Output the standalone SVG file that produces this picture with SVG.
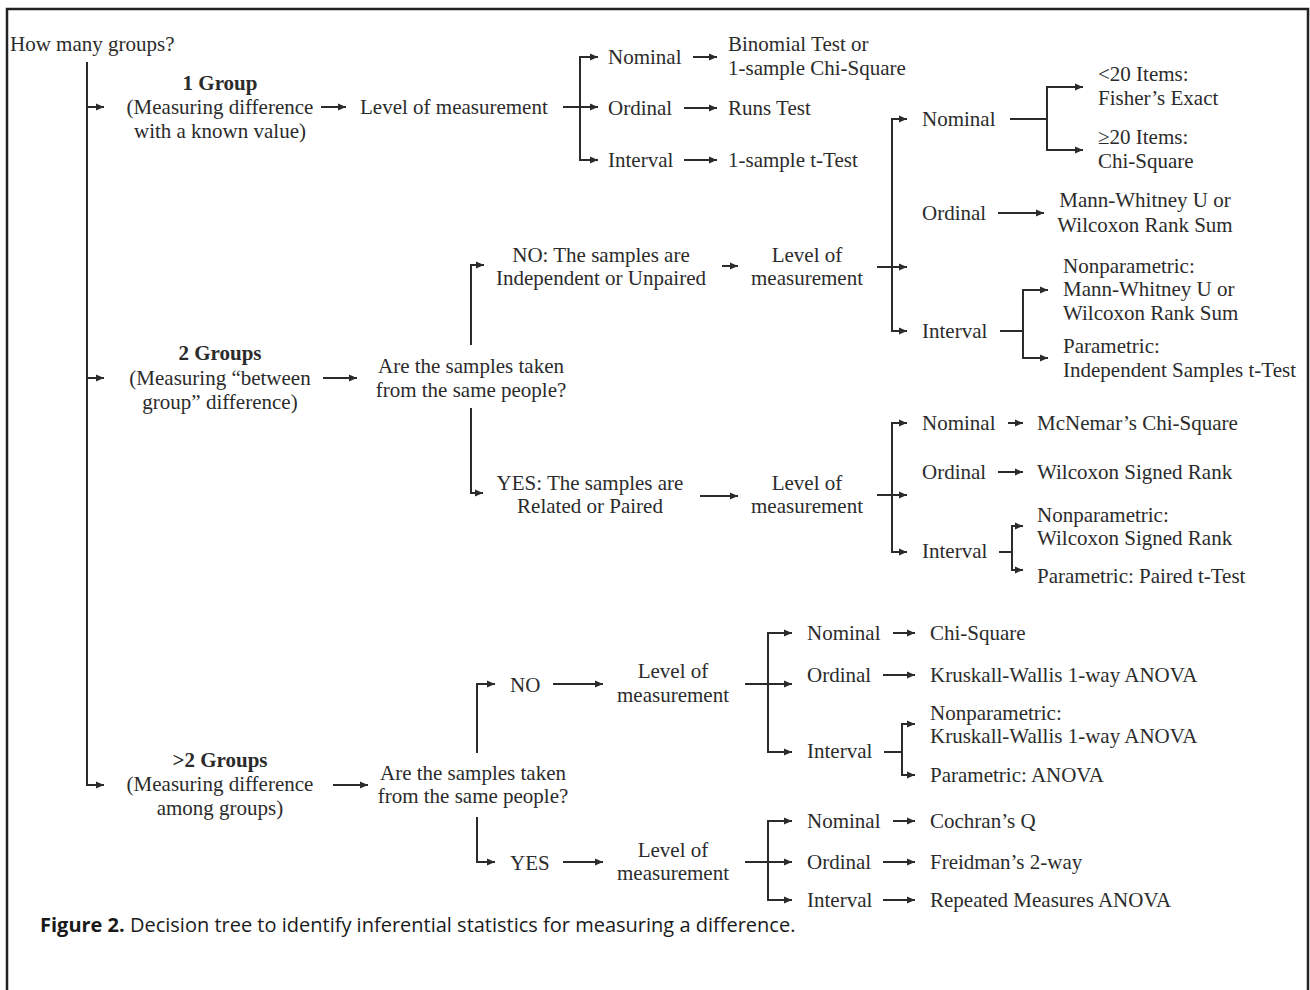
<svg xmlns="http://www.w3.org/2000/svg" width="1310" height="990" viewBox="0 0 1310 990">
<defs>
<marker id="ah" viewBox="0 0 8 8" refX="8" refY="4" markerWidth="8" markerHeight="8" markerUnits="userSpaceOnUse" orient="auto-start-reverse">
<path d="M0,0.5 L8,4 L0,7.5 z" fill="#2b2b2b"/>
</marker>
<style>
.t{font-family:"Liberation Serif","Times New Roman",serif;font-size:21px;fill:#2b2b2b}
.b{font-weight:bold}
.m{text-anchor:middle}
.c{fill:none;stroke:#2b2b2b;stroke-width:2}
.a{marker-end:url(#ah)}
.aa{marker-start:url(#ah);marker-end:url(#ah)}
.cap{font-family:"Open Sans","Liberation Sans",sans-serif;font-size:20px;fill:#1a1a1a}
</style>
</defs>
<rect x="0" y="0" width="1310" height="990" fill="#fff"/>
<path d="M7,1100 V9 H1308 V1100" fill="none" stroke="#222" stroke-width="2.5"/>

<g id="connectors">
<path class="c a" d="M87,62 V785 H104"/>
<path class="c a" d="M87,107 H104"/>
<path class="c a" d="M87,378 H104"/>
<path class="c a" d="M321,107 H346"/>
<path class="c aa" d="M598,57 H580 V160 H598"/>
<path class="c a" d="M563,107 H598"/>
<path class="c a" d="M693,57 H717"/>
<path class="c a" d="M684,108 H717"/>
<path class="c a" d="M684,160 H717"/>

<path class="c a" d="M323,378 H357"/>
<path class="c a" d="M471,345 V265 H484"/>
<path class="c a" d="M471,408 V493 H483"/>
<path class="c a" d="M722,266 H738"/>
<path class="c a" d="M700,496 H738"/>
<path class="c aa" d="M907,119 H892 V331 H907"/>
<path class="c a" d="M877,267 H907"/>
<path class="c" d="M1010,119 H1047"/>
<path class="c aa" d="M1083,87 H1047 V150 H1083"/>
<path class="c a" d="M998,213 H1044"/>
<path class="c" d="M1000,331 H1023"/>
<path class="c aa" d="M1048,290 H1023 V358 H1048"/>
<path class="c aa" d="M907,423 H892 V552 H907"/>
<path class="c a" d="M877,495 H907"/>
<path class="c a" d="M1008,423 H1023"/>
<path class="c a" d="M998,472 H1023"/>
<path class="c" d="M999,552 H1012"/>
<path class="c aa" d="M1023,526 H1012 V570 H1023"/>

<path class="c a" d="M333,785 H368"/>
<path class="c a" d="M477,753 V684 H495"/>
<path class="c a" d="M477,817 V862 H495"/>
<path class="c a" d="M553,684 H603"/>
<path class="c a" d="M563,862 H603"/>
<path class="c aa" d="M792,633 H768 V752 H792"/>
<path class="c a" d="M745,684 H792"/>
<path class="c a" d="M893,633 H915"/>
<path class="c a" d="M883,675 H915"/>
<path class="c" d="M884,752 H902"/>
<path class="c aa" d="M915,724 H902 V775 H915"/>
<path class="c aa" d="M792,821 H768 V900 H792"/>
<path class="c a" d="M745,862 H792"/>
<path class="c a" d="M893,821 H915"/>
<path class="c a" d="M883,862 H915"/>
<path class="c a" d="M883,900 H915"/>
</g>

<g id="root"><text class="t" x="10" y="51">How many groups?</text></g>

<g id="g1">
<text class="t m b" x="220" y="90">1 Group</text>
<text class="t m" x="220" y="114">(Measuring difference</text>
<text class="t m" x="220" y="138">with a known value)</text>
</g>
<g id="g1-level"><text class="t" x="360" y="114">Level of measurement</text></g>
<g id="g1-nominal"><text class="t" x="608" y="64">Nominal</text></g>
<g id="g1-ordinal"><text class="t" x="608" y="115">Ordinal</text></g>
<g id="g1-interval"><text class="t" x="608" y="167">Interval</text></g>
<g id="g1-binomial"><text class="t" x="728" y="51">Binomial Test or</text><text class="t" x="728" y="75">1-sample Chi-Square</text></g>
<g id="g1-runs"><text class="t" x="728" y="115">Runs Test</text></g>
<g id="g1-ttest"><text class="t" x="728" y="167">1-sample t-Test</text></g>

<g id="g2">
<text class="t m b" x="220" y="360">2 Groups</text>
<text class="t m" x="220" y="385">(Measuring “between</text>
<text class="t m" x="220" y="409">group” difference)</text>
</g>
<g id="g2-q"><text class="t m" x="471" y="373">Are the samples taken</text><text class="t m" x="471" y="397">from the same people?</text></g>
<g id="g2-no"><text class="t m" x="601" y="262">NO: The samples are</text><text class="t m" x="601" y="285">Independent or Unpaired</text></g>
<g id="g2-no-level"><text class="t m" x="807" y="262">Level of</text><text class="t m" x="807" y="285">measurement</text></g>
<g id="g2-yes"><text class="t m" x="590" y="490">YES: The samples are</text><text class="t m" x="590" y="513">Related or Paired</text></g>
<g id="g2-yes-level"><text class="t m" x="807" y="490">Level of</text><text class="t m" x="807" y="513">measurement</text></g>

<g id="g2-no-nominal"><text class="t" x="922" y="126">Nominal</text></g>
<g id="g2-fisher"><text class="t" x="1098" y="81">&lt;20 Items:</text><text class="t" x="1098" y="105">Fisher’s Exact</text></g>
<g id="g2-chisq"><text class="t" x="1098" y="144">≥20 Items:</text><text class="t" x="1098" y="168">Chi-Square</text></g>
<g id="g2-no-ordinal"><text class="t" x="922" y="220">Ordinal</text></g>
<g id="g2-mann"><text class="t m" x="1145" y="207">Mann-Whitney U or</text><text class="t m" x="1145" y="232">Wilcoxon Rank Sum</text></g>
<g id="g2-no-interval"><text class="t" x="922" y="338">Interval</text></g>
<g id="g2-nonpar"><text class="t" x="1063" y="273">Nonparametric:</text><text class="t" x="1063" y="296">Mann-Whitney U or</text><text class="t" x="1063" y="320">Wilcoxon Rank Sum</text></g>
<g id="g2-par"><text class="t" x="1063" y="353">Parametric:</text><text class="t" x="1063" y="377">Independent Samples t-Test</text></g>

<g id="g2-yes-nominal"><text class="t" x="922" y="430">Nominal</text></g>
<g id="g2-mcnemar"><text class="t" x="1037" y="430">McNemar’s Chi-Square</text></g>
<g id="g2-yes-ordinal"><text class="t" x="922" y="479">Ordinal</text></g>
<g id="g2-wsr"><text class="t" x="1037" y="479">Wilcoxon Signed Rank</text></g>
<g id="g2-yes-interval"><text class="t" x="922" y="558">Interval</text></g>
<g id="g2-yes-nonpar"><text class="t" x="1037" y="522">Nonparametric:</text><text class="t" x="1037" y="545">Wilcoxon Signed Rank</text></g>
<g id="g2-yes-par"><text class="t" x="1037" y="583">Parametric: Paired t-Test</text></g>

<g id="g3">
<text class="t m b" x="220" y="767">&gt;2 Groups</text>
<text class="t m" x="220" y="791">(Measuring difference</text>
<text class="t m" x="220" y="815">among groups)</text>
</g>
<g id="g3-q"><text class="t m" x="473" y="780">Are the samples taken</text><text class="t m" x="473" y="803">from the same people?</text></g>
<g id="g3-no"><text class="t" x="510" y="692">NO</text></g>
<g id="g3-no-level"><text class="t m" x="673" y="678">Level of</text><text class="t m" x="673" y="702">measurement</text></g>
<g id="g3-yes"><text class="t" x="510" y="870">YES</text></g>
<g id="g3-yes-level"><text class="t m" x="673" y="857">Level of</text><text class="t m" x="673" y="880">measurement</text></g>
<g id="g3-no-nominal"><text class="t" x="807" y="640">Nominal</text></g>
<g id="g3-chisq"><text class="t" x="930" y="640">Chi-Square</text></g>
<g id="g3-no-ordinal"><text class="t" x="807" y="682">Ordinal</text></g>
<g id="g3-kw"><text class="t" x="930" y="682">Kruskall-Wallis 1-way ANOVA</text></g>
<g id="g3-no-interval"><text class="t" x="807" y="758">Interval</text></g>
<g id="g3-nonpar"><text class="t" x="930" y="720">Nonparametric:</text><text class="t" x="930" y="743">Kruskall-Wallis 1-way ANOVA</text></g>
<g id="g3-par"><text class="t" x="930" y="782">Parametric: ANOVA</text></g>
<g id="g3-yes-nominal"><text class="t" x="807" y="828">Nominal</text></g>
<g id="g3-cochran"><text class="t" x="930" y="828">Cochran’s Q</text></g>
<g id="g3-yes-ordinal"><text class="t" x="807" y="869">Ordinal</text></g>
<g id="g3-friedman"><text class="t" x="930" y="869">Freidman’s 2-way</text></g>
<g id="g3-yes-interval"><text class="t" x="807" y="907">Interval</text></g>
<g id="g3-rm"><text class="t" x="930" y="907">Repeated Measures ANOVA</text></g>

<g id="caption"><text class="cap" x="40" y="932"><tspan font-weight="bold">Figure 2.</tspan> Decision tree to identify inferential statistics for measuring a difference.</text></g>
</svg>
